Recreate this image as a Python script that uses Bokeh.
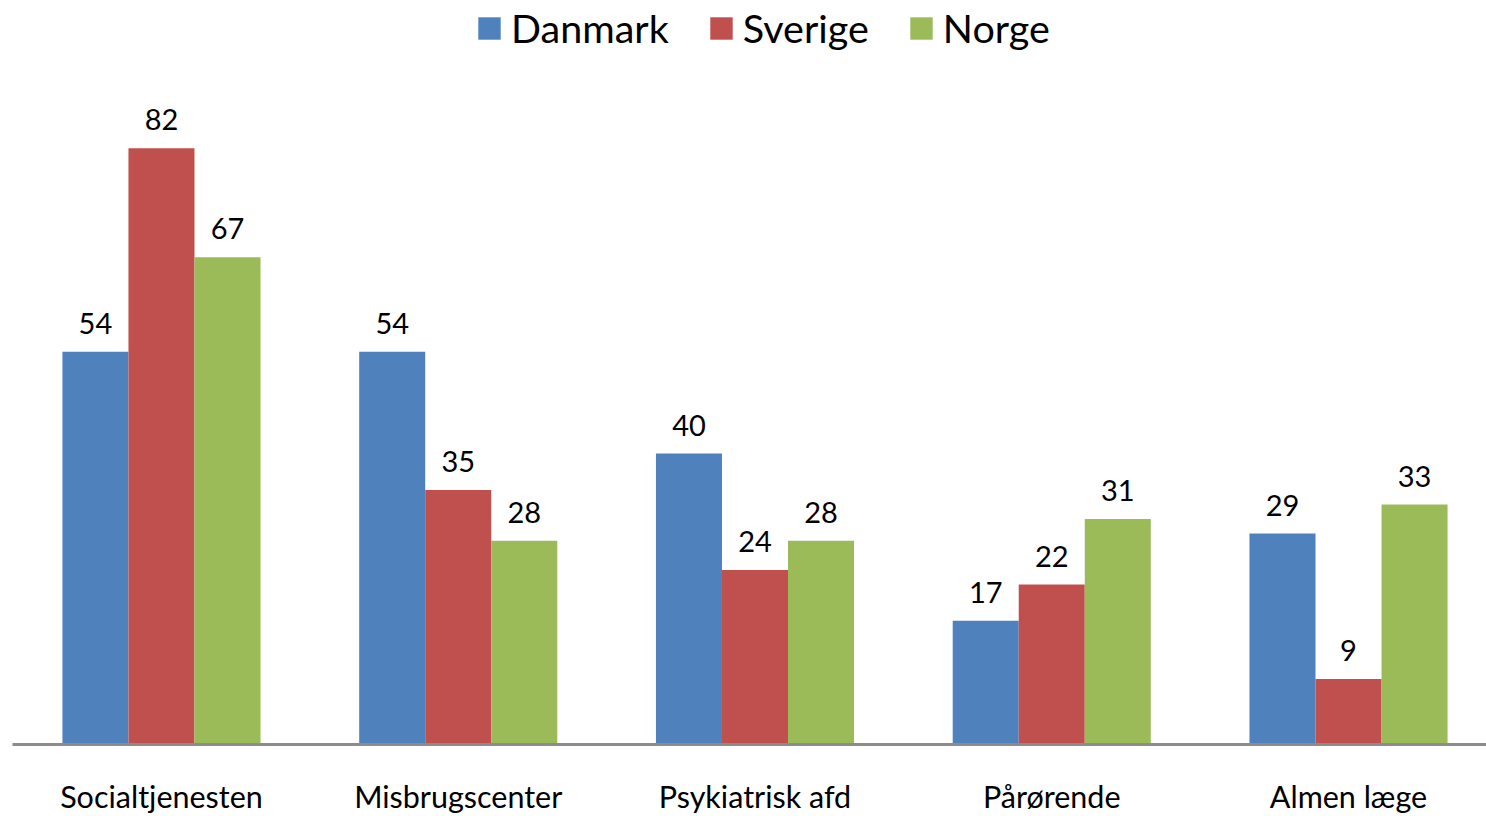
from bokeh.plotting import figure
from bokeh.models import ColumnDataSource, Range1d, FixedTicker, Legend, LegendItem, LabelSet
from bokeh.core.properties import value
from bokeh.transform import dodge
from bokeh.embed import file_html
from bokeh.resources import INLINE

categories = ["Socialtjenesten", "Misbrugscenter", "Psykiatrisk afd", "Pårørende", "Almen læge"]
series_names = ["Danmark", "Sverige", "Norge"]
danmark = [54, 54, 40, 17, 29]
sverige = [82, 35, 24, 22, 9]
norge = [67, 28, 28, 31, 33]
colors = ["#4F81BD", "#C0504D", "#9BBB59"]

xs = list(range(len(categories)))
src = ColumnDataSource(dict(x=xs, Danmark=danmark, Sverige=sverige, Norge=norge,
                            lD=[str(v) for v in danmark], lS=[str(v) for v in sverige],
                            lN=[str(v) for v in norge]))

p = figure(width=1486, height=816, output_backend="svg", toolbar_location=None,
           x_range=Range1d(-0.502, 4.465), y_range=Range1d(0, 102.3),
           min_border_left=12, min_border_right=0, min_border_top=0, min_border_bottom=0)

bw = 0.2225
offsets = [-bw, 0, bw]
label_cols = ["lD", "lS", "lN"]
items = []
for name, col, off, lc in zip(series_names, colors, offsets, label_cols):
    r = p.vbar(x=dodge("x", off, range=p.x_range), top=name, width=bw, bottom=0,
               source=src, fill_color=col, line_color=None)
    items.append(LegendItem(label=name, renderers=[r]))
    lab = LabelSet(x=dodge("x", off, range=p.x_range), y=name, text=lc, source=src,
                   text_align="center", text_baseline="bottom", y_offset=18,
                   text_font=value("Lato"), text_font_size="29px", text_color="#000000")
    p.add_layout(lab)

legend = Legend(items=items, orientation="horizontal", location=(459, 689),
                label_text_font="Lato", label_text_font_size="39.5px", label_text_color="#000000",
                glyph_width=28, glyph_height=28, label_standoff=8, spacing=38,
                background_fill_alpha=0, border_line_alpha=0, margin=0, padding=4)
p.add_layout(legend)

p.yaxis.visible = False
p.xgrid.visible = False
p.ygrid.visible = False
p.outline_line_color = None
p.xaxis.ticker = FixedTicker(ticks=xs)
p.xaxis.major_label_overrides = {i: c for i, c in zip(xs, categories)}
p.xaxis.major_tick_line_color = None
p.xaxis.minor_tick_line_color = None
p.xaxis.axis_line_color = "#8C8C8C"
p.xaxis.axis_line_width = 3
p.xaxis.major_label_standoff = 27
p.xaxis.major_label_text_font = "Lato"
p.xaxis.major_label_text_font_size = "30.5px"
p.xaxis.major_label_text_color = "#000000"

open("out.html", "w").write(file_html(p, INLINE))
